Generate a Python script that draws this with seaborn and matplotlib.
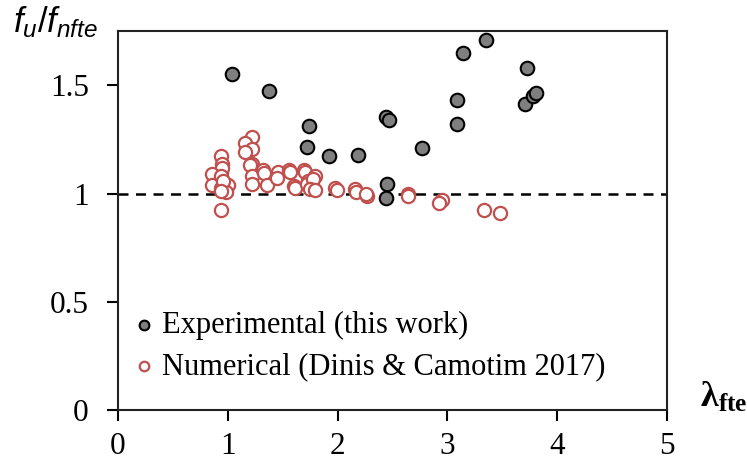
import matplotlib
matplotlib.use("Agg")
import matplotlib.pyplot as plt
import seaborn as sns
import pandas as pd

# Experimental results (this work)
exp_lambda = [1.035, 1.375, 1.737, 1.724, 1.925, 2.183, 2.44, 2.47, 2.453, 2.44,
              2.766, 3.085, 3.085, 3.142, 3.352, 3.725, 3.707, 3.78, 3.81]
exp_ratio = [1.552, 1.475, 1.312, 1.217, 1.172, 1.180, 1.355, 1.341, 1.045, 0.978,
             1.209, 1.432, 1.323, 1.650, 1.708, 1.581, 1.413, 1.452, 1.464]

# Numerical results (Dinis & Camotim 2017)
num_lambda = [0.94, 0.945, 0.94, 0.95, 0.86, 0.86, 0.94, 0.94, 1.00, 0.98, 0.94, 0.96, 0.94,
              1.22, 1.16, 1.22, 1.16, 1.22, 1.20, 1.22, 1.22, 1.32, 1.33, 1.36,
              1.46, 1.45, 1.56, 1.57, 1.60, 1.61, 1.69, 1.70, 1.73, 1.72, 1.79, 1.78,
              1.75, 1.79, 1.98, 1.99, 2.16, 2.17, 2.27, 2.26, 2.64, 2.64, 2.95, 2.92,
              3.33, 3.48]
num_ratio = [1.175, 1.135, 1.10, 1.12, 1.09, 1.04, 1.08, 1.025, 1.04, 1.005, 0.925, 1.06, 1.01,
             1.26, 1.235, 1.205, 1.19, 1.135, 1.13, 1.08, 1.045, 1.11, 1.095, 1.04,
             1.10, 1.07, 1.11, 1.10, 1.035, 1.025, 1.11, 1.10, 1.06, 1.045, 1.08, 1.065,
             1.02, 1.015, 1.025, 1.015, 1.02, 1.008, 0.99, 1.0, 0.998, 0.99, 0.972, 0.958,
             0.925, 0.912]

x_ticks = [0, 1, 2, 3, 4, 5]
y_ticks = [0, 0.5, 1, 1.5]
y_tick_labels = ["0", "0.5", "1", "1.5"]

sns.set_style("white")
plt.rcParams["font.family"] = ["Liberation Serif", "DejaVu Serif"]
plt.rcParams["text.color"] = "black"
plt.rcParams["xtick.color"] = "black"
plt.rcParams["ytick.color"] = "black"
plt.rcParams["mathtext.fontset"] = "custom"
plt.rcParams["mathtext.it"] = "Liberation Sans:italic"
plt.rcParams["mathtext.rm"] = "Liberation Sans"
plt.rcParams["mathtext.bf"] = "Liberation Serif:bold"

fig = plt.figure(figsize=(7.47, 4.65), dpi=100)
ax = fig.add_axes([0.158, 0.118, 0.735, 0.815])

exp_df = pd.DataFrame({"lam": exp_lambda, "ratio": exp_ratio})
num_df = pd.DataFrame({"lam": num_lambda, "ratio": num_ratio})

ax.axhline(1.0, color="black", lw=1.8, ls=(0, (4, 3)), zorder=1)

sns.scatterplot(data=num_df, x="lam", y="ratio", ax=ax, s=90,
                facecolor="white", edgecolor="#c0504d", linewidth=1.6,
                label="Numerical (Dinis & Camotim 2017)", zorder=2)
sns.scatterplot(data=exp_df, x="lam", y="ratio", ax=ax, s=95,
                color="#7f7f7f", edgecolor="black", linewidth=1.5,
                label="Experimental (this work)", zorder=3)

ax.set_xlim(0, 5)
ax.set_ylim(0, 1.75)
ax.set_xticks(x_ticks)
ax.set_yticks(y_ticks)
ax.set_yticklabels(y_tick_labels)
ax.set_xlabel("")
ax.set_ylabel("")
ax.tick_params(axis="both", direction="out", length=8, width=1.5,
               labelsize=22.5, labelcolor="black", bottom=True, left=True)
ax.tick_params(axis="y", pad=13)
ax.tick_params(axis="x", pad=8)
for sp in ax.spines.values():
    sp.set_visible(True)
    sp.set_color("#222222")
    sp.set_linewidth(1.5)

handles, labels = ax.get_legend_handles_labels()
order = [1, 0]
leg = ax.legend([handles[i] for i in order], [labels[i] for i in order],
                loc="lower left", bbox_to_anchor=(-0.025, 0.02), frameon=False,
                fontsize=22, markerscale=0.72, handletextpad=0.0,
                labelspacing=0.4, borderaxespad=0.3, handlelength=1.2)
for t in leg.get_texts():
    t.set_color("black")

fig.text(0.018, 0.99, r"$f_u/f_{nfte}$", fontsize=25, ha="left", va="top")
fig.text(0.937, 0.145, r"$\mathbf{\lambda_{fte}}$", fontsize=26, ha="left", va="center")

fig.savefig("out.png", dpi=100)
